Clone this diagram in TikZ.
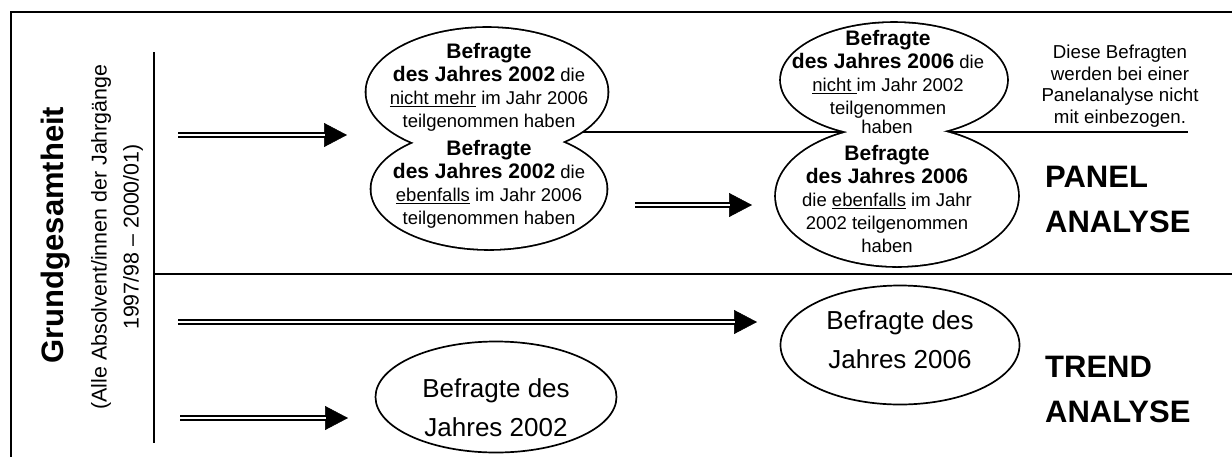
\documentclass[tikz,border=0pt]{standalone}
\usepackage{fontspec}
\setmainfont{Liberation Sans}
\usepackage{tikz}
\usetikzlibrary{arrows.meta,positioning,shapes.geometric}
\newcommand{\svbold}[1]{{\bfseries\fontsize{21}{23}\selectfont #1}}
\tikzset{
  sv/rim/.style={draw, ellipse, line width=3.6pt, inner sep=0pt},
  sv/core/.style={fill=white, ellipse, inner sep=0pt},
  sv/oval/.style={draw, ellipse, line width=1.7pt, inner sep=0pt},
  sv/cloudtxt/.style={align=center, inner sep=0pt, font=\fontsize{18.5}{23}\selectfont},
  sv/ovaltxt/.style={align=center, inner sep=0pt, font=\fontsize{26}{39}\selectfont},
  sv/note/.style={align=center, inner sep=0pt, font=\fontsize{18.7}{21.6}\selectfont},
  sv/big/.style={align=left, inner sep=0pt, anchor=west, font=\bfseries\fontsize{31}{45}\selectfont},
  sv/line/.style={line width=2pt},
  sv/shaft/.style={double, double distance=2.4pt, line width=1.8pt, shorten >=22pt},
  sv/tip/.style={line width=0.5pt, -{Triangle[length=23pt,width=24pt]}}
}
\def\cloudparts{c1top/487/92/241/128, c1bot/489/189/235/120, c2top/894/80/226/114, c2bot/897/196/242/140}

\begin{document}
\begin{tikzpicture}[x=1pt,y=-1pt]
  \useasboundingbox (0,0) rectangle (1232,456);
  \clip (0,0) rectangle (1232,456);

  % frame and dividers
  \draw[sv/line] (11,480) -- (11,12) -- (1250,12);
  \draw[sv/line] (154,52) -- (154,443);
  \draw[sv/line] (154,274) -- (1250,274);
  \coordinate (lnstart) at (580,132);
  \coordinate (lnend) at (1188,132);
  \draw[sv/line] (lnstart) -- (lnend);

  % clouds: outlines first, then white cores
  \foreach \n/\x/\y/\w/\h in \cloudparts
    \node[sv/rim, minimum width=\w pt, minimum height=\h pt] (\n) at (\x,\y) {};
  \foreach \n/\x/\y/\w/\h in \cloudparts
    \node[sv/core, minimum width=\w pt, minimum height=\h pt] (\n-in) at (\x,\y) {};

  \node[sv/cloudtxt] (t1top) at (489,87) {\svbold{Befragte}\\\svbold{des Jahres 2002} die\\\underline{nicht mehr} im Jahr 2006\\teilgenommen haben};
  \node[sv/cloudtxt] (t1bot) at (489,184) {\svbold{Befragte}\\\svbold{des Jahres 2002} die\\\underline{ebenfalls} im Jahr 2006\\teilgenommen haben};
  \node[sv/cloudtxt, fill=white, inner xsep=11pt, inner ysep=2pt] (t2gap) at (887,127) {haben};
  \node[sv/cloudtxt] (t2top) at (888,74) {\svbold{Befragte}\\\svbold{des Jahres 2006} die\\\underline{nicht }im Jahr 2002\\teilgenommen};
  \node[sv/cloudtxt] (t2bot) at (887,199) {\svbold{Befragte}\\\svbold{des Jahres 2006}\\die \underline{ebenfalls} im Jahr\\2002 teilgenommen\\haben};

  \node[sv/note] (note) at (1120,86) {Diese Befragten\\werden bei einer\\Panelanalyse nicht\\mit einbezogen.};

  % single ovals
  \node[sv/oval, minimum width=239pt, minimum height=119pt] (o2006) at (900,345) {};
  \node[sv/ovaltxt] (t2006) at ([yshift=5pt]o2006.center) {Befragte des\\Jahres 2006};
  \node[sv/oval, minimum width=241pt, minimum height=111pt] (o2002) at (496,397) {};
  \node[sv/ovaltxt] (t2002) at ([yshift=-11pt]o2002.center) {Befragte des\\Jahres 2002};

  \node[sv/big] (panel) at (1045,199) {PANEL\\ANALYSE};
  \node[sv/big] (trend) at (1045,389) {TREND\\ANALYSE};

  \node[rotate=90, inner sep=0pt, font=\bfseries\fontsize{31}{37}\selectfont] (gg) at (56,235) {Grundgesamtheit};
  \node[rotate=90, align=center, inner sep=0pt, font=\fontsize{21.4}{32}\selectfont] (ggsub) at (117,237) {(Alle Absolvent/innen der Jahrgänge\\1997/98 -- 2000/01)};

  % double arrows
  \coordinate (a1s) at (178,135); \coordinate (a1e) at (347,135);
  \coordinate (a2s) at (178,322); \coordinate (a2e) at (757,322);
  \coordinate (a3s) at (180,418); \coordinate (a3e) at (348,418);
  \coordinate (a4s) at (635,205); \coordinate (a4e) at (752,205);
  \foreach \s/\e in {a1s/a1e, a2s/a2e, a3s/a3e, a4s/a4e} {
    \draw[sv/tip] (\s) -- (\e);
    \draw[sv/shaft] (\s) -- (\e);
  }
\end{tikzpicture}
\end{document}
